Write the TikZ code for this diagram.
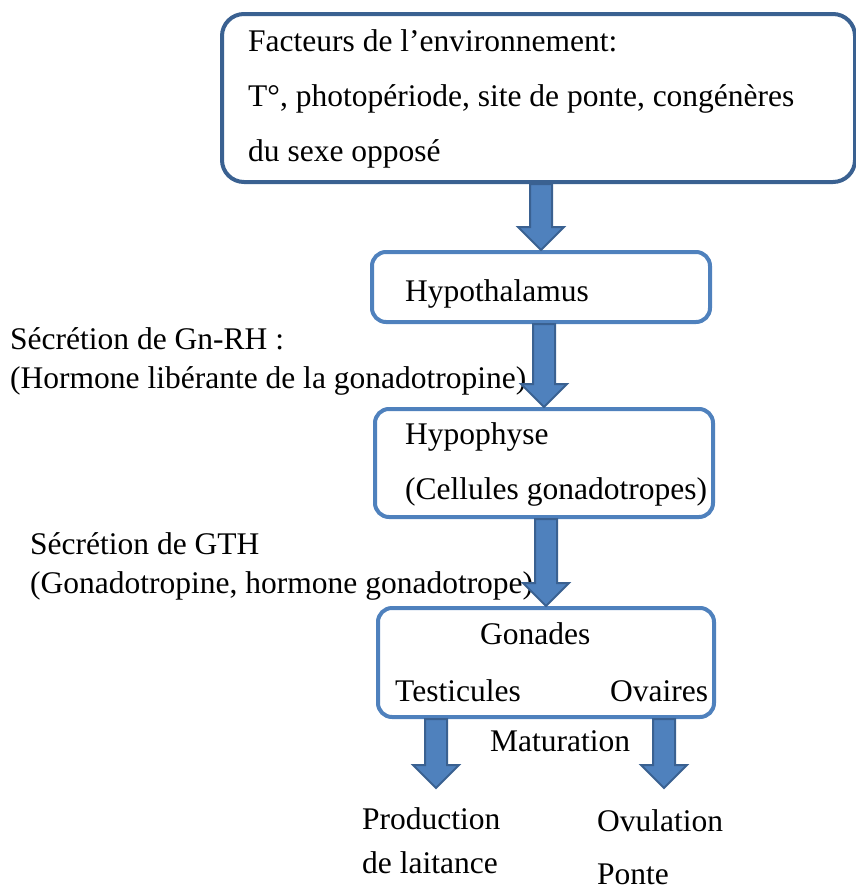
\documentclass[tikz,border=0pt]{standalone}
\usepackage{fontspec}
\setmainfont{Liberation Serif}
\usetikzlibrary{calc}
\definecolor{boxblue}{HTML}{4F81BD}
\definecolor{darkblue}{HTML}{3A6191}
\newcommand{\blockarr}[2]{%
  \path[arrowshape] let \p1=#1, \p2=#2 in
    (\x2-11pt,\y1) -- (\x2-11pt,\y2+23pt) -- (\x2-23pt,\y2+23pt) -- (\x2,\y2)
    -- (\x2+23pt,\y2+23pt) -- (\x2+11pt,\y2+23pt) -- (\x2+11pt,\y1) -- cycle;}
\begin{document}
\begin{tikzpicture}[x=1pt,y=-1pt,
  every node/.style={font=\fontsize{31.5}{36}\selectfont},
  lbl/.style={inner sep=0pt, anchor=base west},
  bigbox/.style={draw=darkblue, line width=4pt, rounded corners=22pt, inner sep=0pt},
  smallbox/.style={draw=boxblue, line width=4pt, rounded corners=14pt, inner sep=0pt},
  arrowshape/.style={fill=boxblue, draw=darkblue, line width=2pt, line join=miter}]
\useasboundingbox (0,0) rectangle (856,886);
% boxes
\node[bigbox, minimum width=633pt, minimum height=168pt] (env) at (538.5,98) {};
\node[smallbox, minimum width=338pt, minimum height=70pt] (hyth) at (541,287) {};
\node[smallbox, minimum width=338pt, minimum height=108pt] (hyp) at (544,463) {};
\node[smallbox, minimum width=336pt, minimum height=109pt] (gon) at (546,662.5) {};
\coordinate (testout) at (436,788);
\coordinate (ovout) at (664,788);
% texts
\node[lbl] (t1) at (248,51) {Facteurs de l’environnement:};
\node[lbl] (t2) at (248,106) {T°, photopériode, site de ponte, congénères};
\node[lbl] (t3) at (248,161) {du sexe opposé};
\node[lbl] (t4) at (405,301) {Hypothalamus};
\node[lbl] (t5) at (405,444) {Hypophyse};
\node[lbl] (t6) at (405,499) {(Cellules gonadotropes)};
\node[lbl] (t7) at (480,644) {Gonades};
\node[lbl] (t8) at (395,701) {Testicules};
\node[lbl] (t9) at (610,701) {Ovaires};
\node[lbl] (t10) at (490,751) {Maturation};
\node[lbl] (t11) at (362,829) {Production};
\node[lbl] (t12) at (362,873) {de laitance};
\node[lbl] (t13) at (597,831) {Ovulation};
\node[lbl] (t14) at (597,884) {Ponte};
\node[lbl] (t15) at (10,349) {Sécrétion de Gn-RH :};
\node[lbl] (t16) at (10,388) {(Hormone libérante de la gonadotropine)};
\node[lbl] (t17) at (30,554) {Sécrétion de GTH};
\node[lbl] (t18) at (30,593) {(Gonadotropine, hormone gonadotrope)};
% arrows
\blockarr{(env.south -| hyth.north)}{(hyth.north)}
\blockarr{(hyth.south -| hyp.north)}{(hyp.north)}
\blockarr{(hyp.south -| gon.north)}{(gon.north)}
\blockarr{(gon.south -| testout)}{(testout)}
\blockarr{(gon.south -| ovout)}{(ovout)}
\end{tikzpicture}
\end{document}
